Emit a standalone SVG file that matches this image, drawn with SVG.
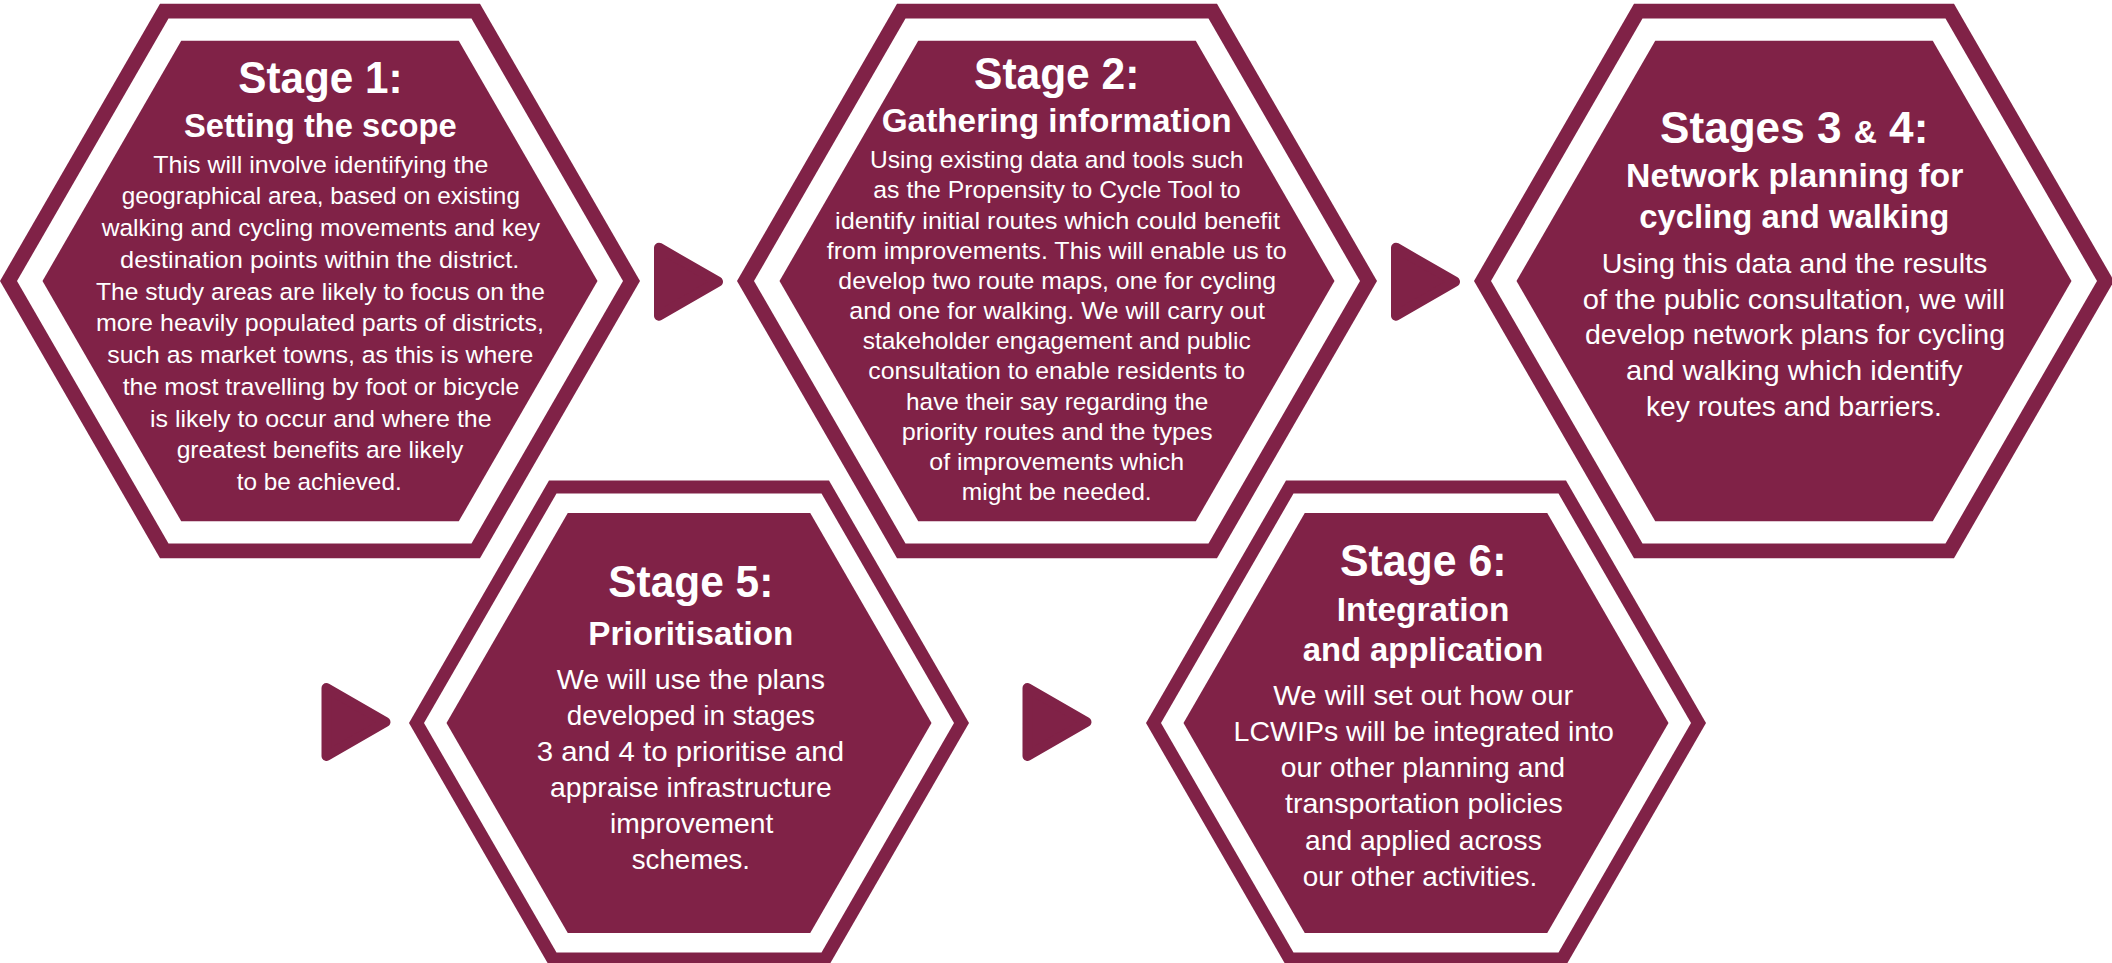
<svg xmlns="http://www.w3.org/2000/svg" xmlns:xlink="http://www.w3.org/1999/xlink" width="2112" height="963" viewBox="0 0 2112 963">
<style>
.dk{fill:#802247}
.wh{fill:#ffffff}
text{fill:#ffffff;font-family:"Liberation Sans",Arial,sans-serif;text-anchor:middle}
.t{font-size:44px;font-weight:bold}
.s{font-size:33px;font-weight:bold}
.b{font-size:24.5px}
.bb{font-size:28px}
.arrow{fill:#802247;stroke:#802247;stroke-width:10;stroke-linejoin:round}
</style>
<defs>
<g id="hexL">
<polygon class="dk" points="320,0 160,277.13 -160,277.13 -320,0 -160,-277.13 160,-277.13"/>
<polygon class="wh" points="303,0 151.5,262.41 -151.5,262.41 -303,0 -151.5,-262.41 151.5,-262.41"/>
<polygon class="dk" points="277.5,0 138.75,240.33 -138.75,240.33 -277.5,0 -138.75,-240.33 138.75,-240.33"/>
</g>
<g id="hexS">
<polygon class="dk" points="280,0 140,242.49 -140,242.49 -280,0 -140,-242.49 140,-242.49"/>
<polygon class="wh" points="265,0 132.5,229.5 -132.5,229.5 -265,0 -132.5,-229.5 132.5,-229.5"/>
<polygon class="dk" points="242.5,0 121.25,210.01 -121.25,210.01 -242.5,0 -121.25,-210.01 121.25,-210.01"/>
</g>
<path id="arr" class="arrow" d="M5,-34 L64,0 L5,34 Z"/>
</defs>
<rect width="2112" height="963" fill="#ffffff"/>

<g id="connectors">
<use xlink:href="#arr" href="#arr" transform="translate(654,281.7)"/>
<use xlink:href="#arr" href="#arr" transform="translate(1391,281.7)"/>
<use xlink:href="#arr" href="#arr" transform="translate(321.5,722)"/>
<use xlink:href="#arr" href="#arr" transform="translate(1022.5,722)"/>
</g>

<g id="stage1">
<use xlink:href="#hexL" href="#hexL" transform="translate(320,281)"/>
<text class="t" x="320.5" y="93.3" textLength="164.4" lengthAdjust="spacingAndGlyphs">Stage 1:</text>
<text class="s" x="320.3" y="136.7" textLength="272.7" lengthAdjust="spacingAndGlyphs">Setting the scope</text>
<text class="b" x="320.8" y="172.7" textLength="335" lengthAdjust="spacingAndGlyphs">This will involve identifying the</text>
<text class="b" x="320.8" y="204.4" textLength="398.3" lengthAdjust="spacingAndGlyphs">geographical area, based on existing</text>
<text class="b" x="320.8" y="236.2" textLength="438.3" lengthAdjust="spacingAndGlyphs">walking and cycling movements and key</text>
<text class="b" x="319.7" y="267.9" textLength="399.3" lengthAdjust="spacingAndGlyphs">destination points within the district.</text>
<text class="b" x="320.5" y="299.6" textLength="449" lengthAdjust="spacingAndGlyphs">The study areas are likely to focus on the</text>
<text class="b" x="320" y="331.4" textLength="448" lengthAdjust="spacingAndGlyphs">more heavily populated parts of districts,</text>
<text class="b" x="320.3" y="363.1" textLength="426" lengthAdjust="spacingAndGlyphs">such as market towns, as this is where</text>
<text class="b" x="321" y="394.8" textLength="396.7" lengthAdjust="spacingAndGlyphs">the most travelling by foot or bicycle</text>
<text class="b" x="320.8" y="426.5" textLength="341.7" lengthAdjust="spacingAndGlyphs">is likely to occur and where the</text>
<text class="b" x="320" y="458.3" textLength="286.7" lengthAdjust="spacingAndGlyphs">greatest benefits are likely</text>
<text class="b" x="319.2" y="490" textLength="165" lengthAdjust="spacingAndGlyphs">to be achieved.</text>
</g>

<g id="stage2">
<use xlink:href="#hexL" href="#hexL" transform="translate(1057,281)"/>
<text class="t" x="1056.7" y="89.3" textLength="165.3" lengthAdjust="spacingAndGlyphs">Stage 2:</text>
<text class="s" x="1056.7" y="131.7" textLength="350" lengthAdjust="spacingAndGlyphs">Gathering information</text>
<text class="b" x="1056.7" y="168.3" textLength="373.3" lengthAdjust="spacingAndGlyphs">Using existing data and tools such</text>
<text class="b" x="1057" y="198.45" textLength="367.3" lengthAdjust="spacingAndGlyphs">as the Propensity to Cycle Tool to</text>
<text class="b" x="1057.5" y="228.6" textLength="445" lengthAdjust="spacingAndGlyphs">identify initial routes which could benefit</text>
<text class="b" x="1056.7" y="258.75" textLength="460" lengthAdjust="spacingAndGlyphs">from improvements. This will enable us to</text>
<text class="b" x="1057.2" y="288.9" textLength="437.7" lengthAdjust="spacingAndGlyphs">develop two route maps, one for cycling</text>
<text class="b" x="1057.2" y="319.05" textLength="415.7" lengthAdjust="spacingAndGlyphs">and one for walking. We will carry out</text>
<text class="b" x="1056.7" y="349.2" textLength="388" lengthAdjust="spacingAndGlyphs">stakeholder engagement and public</text>
<text class="b" x="1056.7" y="379.35" textLength="376.7" lengthAdjust="spacingAndGlyphs">consultation to enable residents to</text>
<text class="b" x="1057.2" y="409.5" textLength="302.3" lengthAdjust="spacingAndGlyphs">have their say regarding the</text>
<text class="b" x="1057.2" y="439.65" textLength="311" lengthAdjust="spacingAndGlyphs">priority routes and the types</text>
<text class="b" x="1056.7" y="469.8" textLength="254.7" lengthAdjust="spacingAndGlyphs">of improvements which</text>
<text class="b" x="1056.7" y="500" textLength="190" lengthAdjust="spacingAndGlyphs">might be needed.</text>
</g>

<g id="stage3-4">
<use xlink:href="#hexL" href="#hexL" transform="translate(1794,281)"/>
<text class="t" x="1794.2" y="143.3" textLength="268.3" lengthAdjust="spacingAndGlyphs">Stages 3 <tspan font-size="32">&amp;</tspan> 4:</text>
<text class="s" x="1794.7" y="187.3" textLength="337.3" lengthAdjust="spacingAndGlyphs">Network planning for</text>
<text class="s" x="1794.3" y="228.3" textLength="310" lengthAdjust="spacingAndGlyphs">cycling and walking</text>
<text class="bb" x="1794.5" y="272.7" textLength="385.7" lengthAdjust="spacingAndGlyphs">Using this data and the results</text>
<text class="bb" x="1793.9" y="308.5" textLength="422.3" lengthAdjust="spacingAndGlyphs">of the public consultation, we will</text>
<text class="bb" x="1795" y="344.3" textLength="420" lengthAdjust="spacingAndGlyphs">develop network plans for cycling</text>
<text class="bb" x="1794.3" y="380.1" textLength="336.7" lengthAdjust="spacingAndGlyphs">and walking which identify</text>
<text class="bb" x="1793.9" y="416" textLength="295.7" lengthAdjust="spacingAndGlyphs">key routes and barriers.</text>
</g>

<g id="stage5">
<use xlink:href="#hexS" href="#hexS" transform="translate(689,723)"/>
<text class="t" x="690.8" y="597" textLength="165" lengthAdjust="spacingAndGlyphs">Stage 5:</text>
<text class="s" x="690.8" y="644.5" textLength="205" lengthAdjust="spacingAndGlyphs">Prioritisation</text>
<text class="bb" x="690.9" y="688.5" textLength="268.3" lengthAdjust="spacingAndGlyphs">We will use the plans</text>
<text class="bb" x="690.9" y="724.5" textLength="248.3" lengthAdjust="spacingAndGlyphs">developed in stages</text>
<text class="bb" x="690.4" y="760.6" textLength="307.3" lengthAdjust="spacingAndGlyphs">3 and 4 to prioritise and</text>
<text class="bb" x="690.9" y="796.7" textLength="281.7" lengthAdjust="spacingAndGlyphs">appraise infrastructure</text>
<text class="bb" x="691.7" y="832.8" textLength="163.3" lengthAdjust="spacingAndGlyphs">improvement</text>
<text class="bb" x="690.9" y="868.8" textLength="118.3" lengthAdjust="spacingAndGlyphs">schemes.</text>
</g>

<g id="stage6">
<use xlink:href="#hexS" href="#hexS" transform="translate(1426,723)"/>
<text class="t" x="1423.3" y="576" textLength="166.7" lengthAdjust="spacingAndGlyphs">Stage 6:</text>
<text class="s" x="1423" y="621" textLength="172.7" lengthAdjust="spacingAndGlyphs">Integration</text>
<text class="s" x="1423" y="661.2" textLength="240.7" lengthAdjust="spacingAndGlyphs">and application</text>
<text class="bb" x="1423.3" y="705" textLength="300" lengthAdjust="spacingAndGlyphs">We will set out how our</text>
<text class="bb" x="1423.8" y="741.2" textLength="380.4" lengthAdjust="spacingAndGlyphs">LCWIPs will be integrated into</text>
<text class="bb" x="1422.9" y="777.3" textLength="284.3" lengthAdjust="spacingAndGlyphs">our other planning and</text>
<text class="bb" x="1423.9" y="813.4" textLength="277.7" lengthAdjust="spacingAndGlyphs">transportation policies</text>
<text class="bb" x="1423.4" y="849.5" textLength="236.7" lengthAdjust="spacingAndGlyphs">and applied across</text>
<text class="bb" x="1420" y="885.6" textLength="234.7" lengthAdjust="spacingAndGlyphs">our other activities.</text>
</g>
</svg>
